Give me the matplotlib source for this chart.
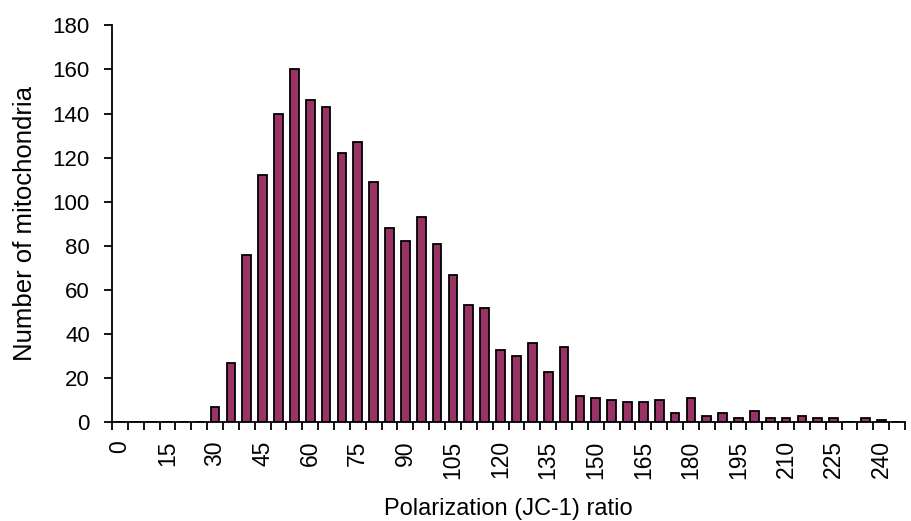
import numpy as np
import matplotlib.pyplot as plt

# Histogram bins (JC-1 ratio, step 5) and counts
bins = list(range(0, 250, 5))
counts = [0, 0, 0, 0, 0, 0, 7, 27, 76, 112,
          140, 160, 146, 143, 122, 127, 109, 88, 82, 93,
          81, 67, 53, 52, 33, 30, 36, 23, 34, 12,
          11, 10, 9, 9, 10, 4, 11, 3, 4, 2,
          5, 2, 2, 3, 2, 2, 0, 2, 1, 0]
label_every = 3

plt.rcParams['font.family'] = ['Liberation Sans', 'DejaVu Sans']

fig = plt.figure(figsize=(9.11, 5.21), dpi=100)
ax = fig.add_axes([112 / 911, 1 - 422.3 / 521, (905 - 112) / 911, (422.3 - 25.3) / 521])

x = np.arange(len(bins))
ax.bar(x, counts, width=0.55, color='#993366', edgecolor='black', linewidth=1.3)

ax.set_xlim(-0.5, len(bins) - 0.5)
ax.set_ylim(0, 180)
ax.set_yticks(range(0, 181, 20))

# tick marks between categories, labels on every third category
ax.set_xticks(np.arange(-0.5, len(bins), 1))
ax.set_xticklabels([])
ax.set_xticks(x[::label_every], minor=True)
ax.set_xticklabels([str(b) for b in bins[::label_every]], minor=True, rotation=90)
ax.tick_params(axis='x', which='major', direction='out', length=6, width=1.3)
ax.tick_params(axis='x', which='minor', length=0, pad=13, labelsize=16.5)
ax.tick_params(axis='y', direction='out', length=6, width=1.3, labelsize=16, pad=10)

for s in ['top', 'right']:
    ax.spines[s].set_visible(False)
for s in ['left', 'bottom']:
    ax.spines[s].set_linewidth(1.3)

ax.set_xlabel("Polarization (JC-1) ratio", fontsize=17, labelpad=14)
ax.set_ylabel("Number of mitochondria", fontsize=18.5, labelpad=11)

fig.savefig('out.png', dpi=100)
